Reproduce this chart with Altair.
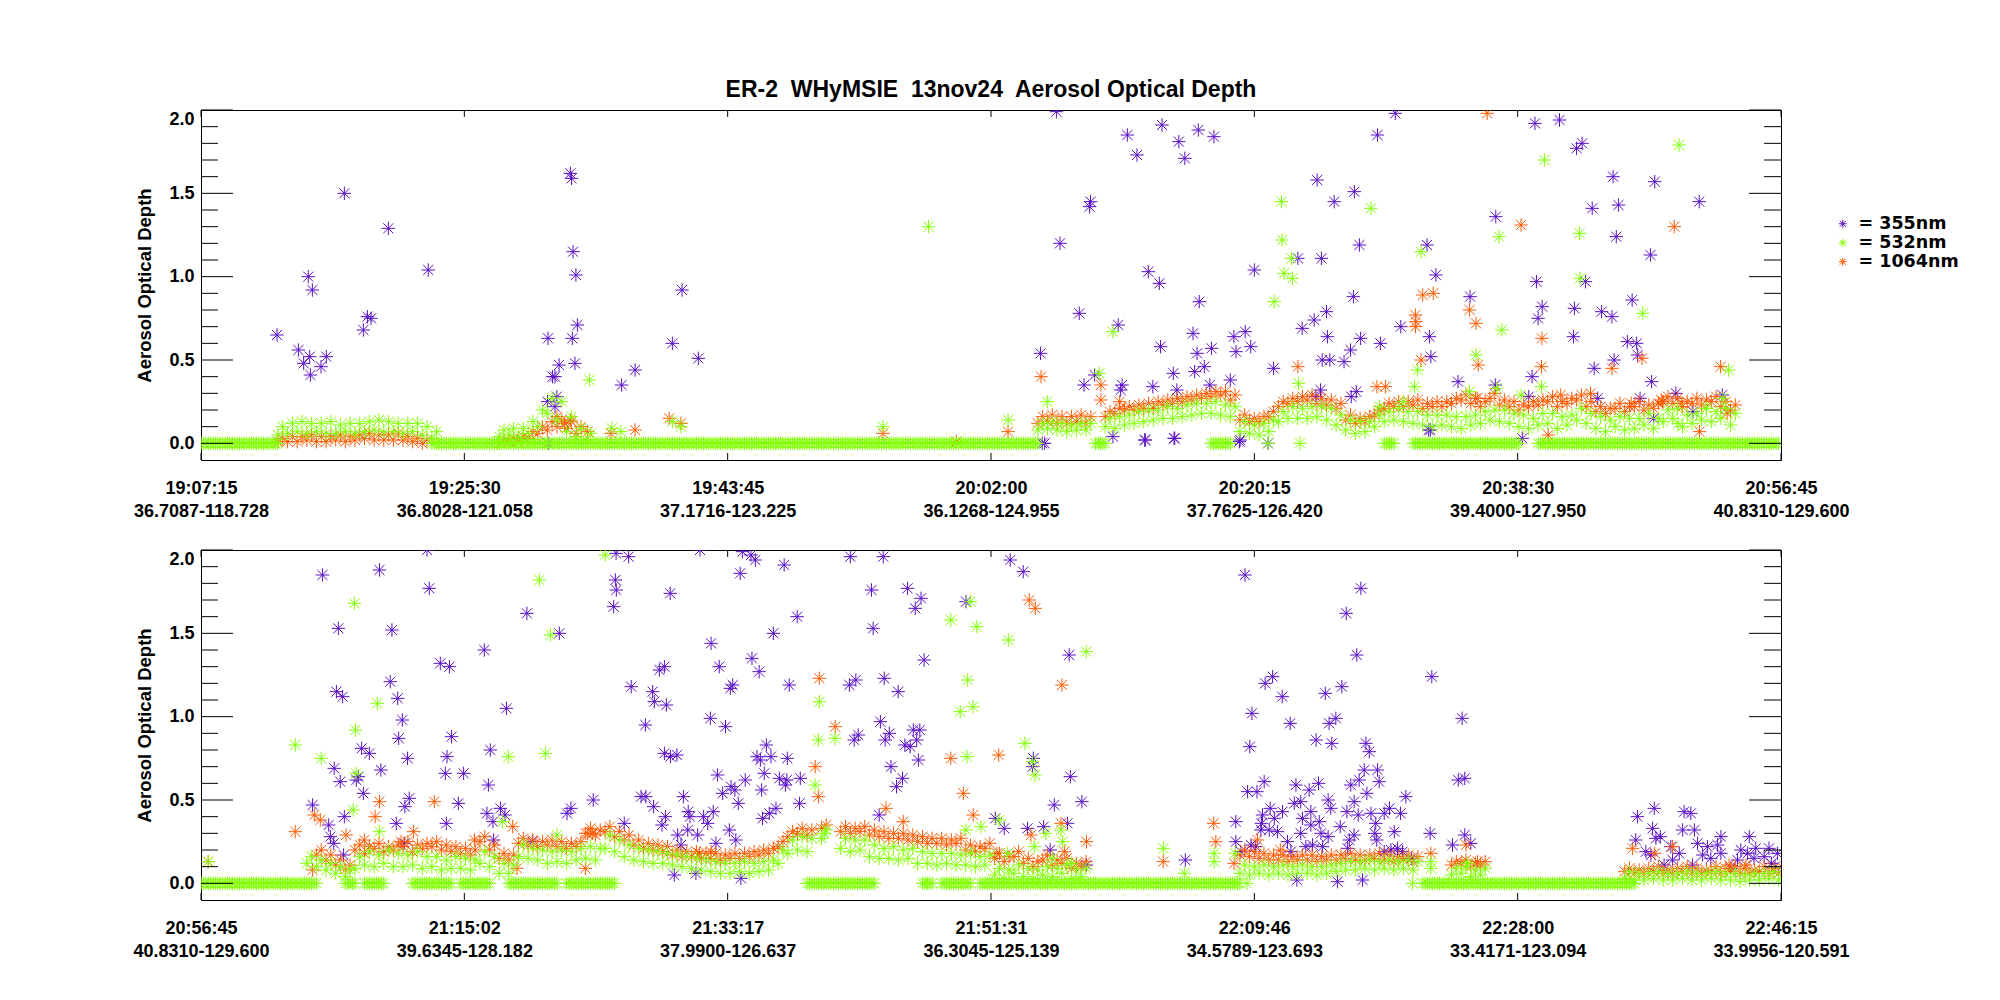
import json

import altair as alt
import pandas as pd

STEP = 40      # seconds between samples inside the dense bands (upper edge drawn half a step later)
ZSTEP = 10     # seconds between samples on the flat zero runs
SPAN = 6570    # seconds shown in each panel
TICKS = [0, 1095, 2190, 3285, 4380, 5475, 6570]

SERIES = ["355nm", "532nm", "1064nm"]
COLORS = ["#5a0fc8", "#80ff00", "#ff5a00"]
STAR = "M0,-1L0,1M-1,0L1,0M-0.75,-0.75L0.75,0.75M-0.75,0.75L0.75,-0.75"
FONT = "Liberation Sans"

top_times = ["19:07:15", "19:25:30", "19:43:45", "20:02:00", "20:20:15", "20:38:30", "20:56:45"]
top_places = ["36.7087-118.728", "36.8028-121.058", "37.1716-123.225", "36.1268-124.955",
              "37.7625-126.420", "39.4000-127.950", "40.8310-129.600"]
bot_times = ["20:56:45", "21:15:02", "21:33:17", "21:51:31", "22:09:46", "22:28:00", "22:46:15"]
bot_places = ["40.8310-129.600", "39.6345-128.182", "37.9900-126.637", "36.3045-125.139",
              "34.5789-123.693", "33.4171-123.094", "33.9956-120.591"]

# ---------------- top panel (seconds after 19:07:15) ----------------
# bands: (start, lower edge values, upper edge values)
top_532_zero = [(0, 320), (960, 3480), (3720, 3760), (4200, 4280), (4920, 4960), (5040, 5480), (5560, 6560)]
top_532_band = [
    (320, [0.05, 0.06, 0.07, 0.06, 0.07, 0.06, 0.06, 0.07, 0.06, 0.07, 0.08, 0.07, 0.07, 0.06, 0.07, 0.05, 0.03],
          [0.10, 0.12, 0.13, 0.12, 0.12, 0.13, 0.11, 0.12, 0.12, 0.13, 0.14, 0.13, 0.12, 0.12, 0.12, 0.10, 0.07]),
    (1240, [0.04, 0.05, 0.04, 0.06, 0.10, 0.18, 0.14, 0.07, 0.04, 0.02],
           [0.08, 0.09, 0.09, 0.13, 0.20, 0.27, 0.25, 0.16, 0.09, 0.06]),
    (3480, [0.08, 0.09, 0.08, 0.07, 0.08, 0.08],
           [0.12, 0.13, 0.12, 0.11, 0.12, 0.12]),
    (3760, [0.10, 0.09, 0.11, 0.12, 0.13, 0.14, 0.15, 0.15, 0.16, 0.17, 0.18, 0.18, 0.17, 0.16, 0.07, 0.06,
            0.05, 0.07, 0.13, 0.15, 0.15, 0.15, 0.16, 0.14, 0.11, 0.08, 0.06, 0.07, 0.10, 0.13, 0.14, 0.13,
            0.12, 0.11, 0.10, 0.11, 0.10, 0.09, 0.11, 0.12, 0.14, 0.13, 0.12, 0.10, 0.09, 0.11, 0.12, 0.09,
            0.11, 0.14, 0.12, 0.09, 0.07, 0.10, 0.08, 0.09, 0.11, 0.09, 0.13, 0.15, 0.10, 0.12, 0.14, 0.13,
            0.15, 0.11],
           [0.15, 0.16, 0.17, 0.19, 0.20, 0.20, 0.22, 0.21, 0.23, 0.24, 0.24, 0.25, 0.23, 0.22, 0.13, 0.11,
            0.12, 0.14, 0.19, 0.22, 0.21, 0.22, 0.22, 0.21, 0.17, 0.14, 0.13, 0.13, 0.17, 0.19, 0.21, 0.19,
            0.19, 0.17, 0.17, 0.17, 0.16, 0.16, 0.17, 0.19, 0.20, 0.20, 0.18, 0.17, 0.15, 0.18, 0.18, 0.16,
            0.17, 0.21, 0.18, 0.16, 0.14, 0.16, 0.15, 0.15, 0.18, 0.15, 0.20, 0.21, 0.17, 0.18, 0.21, 0.19,
            0.21, 0.18]),
]
top_532_pts = [(1615, 0.38), (1708, 0.09), (1746, 0.07), (1960, 0.13), (1996, 0.10), (2836, 0.10), (3025, 1.30),
               (3356, 0.14), (3519, 0.25), (3735, 0.42), (3792, 0.67), (4463, 0.85), (4493, 1.45), (4495, 1.22),
               (4504, 1.02), (4534, 1.11), (4538, 0.99), (4563, 0.36), (4865, 1.41), (5046, 0.34), (5059, 0.44),
               (5073, 1.15), (5302, 0.53), (5398, 1.24), (5409, 0.68), (5574, 0.34), (5586, 1.70), (5732, 1.26),
               (5734, 0.99), (5995, 0.78), (6142, 0.12), (6146, 1.79), (6259, 0.21), (6328, 0.27), (6352, 0.44),
               (4437, 0.0), (4570, 0.0), (5275, 0.31), (5387, 0.33), (5490, 0.29), (4900, 0.22), (5000, 0.25)]

top_1064_band = [
    (320, [0.01, 0.01, 0.01, 0.02, 0.01, 0.01, 0.02, 0.01, 0.02, 0.03, 0.02, 0.02, 0.02, 0.02, 0.01, 0.00],
          [0.03, 0.04, 0.04, 0.05, 0.04, 0.04, 0.05, 0.04, 0.05, 0.06, 0.05, 0.05, 0.06, 0.04, 0.03, 0.02]),
    (1240, [0.00, 0.01, 0.01, 0.03, 0.06, 0.08, 0.10, 0.09, 0.06],
           [0.02, 0.03, 0.04, 0.07, 0.10, 0.13, 0.14, 0.13, 0.10]),
    (3480, [0.12, 0.13, 0.12, 0.12, 0.13, 0.12],
           [0.16, 0.17, 0.16, 0.16, 0.17, 0.16]),
    (3760, [0.16, 0.18, 0.20, 0.20, 0.21, 0.21, 0.23, 0.24, 0.25, 0.26, 0.27, 0.28, 0.29, 0.26, 0.14, 0.13,
            0.13, 0.16, 0.22, 0.24, 0.25, 0.26, 0.24, 0.23, 0.21, 0.14, 0.12, 0.13, 0.17, 0.21, 0.22, 0.22,
            0.23, 0.21, 0.22, 0.22, 0.24, 0.26, 0.24, 0.22, 0.27, 0.23, 0.22, 0.20, 0.22, 0.23, 0.25, 0.22,
            0.24, 0.26, 0.22, 0.19, 0.18, 0.21, 0.19, 0.22, 0.20, 0.21, 0.25, 0.24, 0.22, 0.24, 0.23, 0.25,
            0.22, 0.20],
           [0.19, 0.21, 0.22, 0.23, 0.24, 0.25, 0.26, 0.27, 0.28, 0.29, 0.30, 0.31, 0.31, 0.29, 0.17, 0.15,
            0.16, 0.19, 0.25, 0.27, 0.28, 0.29, 0.27, 0.26, 0.24, 0.17, 0.15, 0.16, 0.20, 0.24, 0.25, 0.25,
            0.26, 0.24, 0.25, 0.25, 0.27, 0.29, 0.27, 0.25, 0.30, 0.26, 0.25, 0.23, 0.25, 0.26, 0.28, 0.25,
            0.27, 0.29, 0.25, 0.22, 0.21, 0.24, 0.22, 0.25, 0.23, 0.24, 0.28, 0.27, 0.25, 0.27, 0.26, 0.28,
            0.25, 0.23]),
]
top_1064_pts = [(1480, 0.16), (1511, 0.12), (1536, 0.14), (1608, 0.07), (1705, 0.06), (1805, 0.08), (1947, 0.15),
                (1996, 0.12), (2836, 0.06), (3141, 0.01), (3356, 0.07), (3493, 0.40), (3742, 0.26), (3742, 0.35),
                (3820, 0.25), (4561, 0.46), (5050, 0.77), (5052, 0.73), (5050, 0.70), (5073, 0.50), (5080, 0.89),
                (5124, 0.90), (5275, 0.80), (5302, 0.72), (5311, 0.47), (5348, 1.98), (5489, 1.31), (5574, 0.46),
                (5576, 0.63), (5602, 0.05), (5867, 0.45), (5992, 0.51), (6077, 0.25), (6126, 1.30), (6155, 0.24),
                (6231, 0.07), (6319, 0.46), (6346, 0.18), (4890, 0.34), (4925, 0.34), (5307, 0.27), (5654, 0.29),
                (5778, 0.30), (5947, 0.24), (6072, 0.26)]

top_355_pts = [(316, 0.65), (405, 0.56), (427, 0.48), (446, 1.00), (463, 0.92), (455, 0.41), (452, 0.52),
               (499, 0.46), (521, 0.52), (596, 1.50), (675, 0.68), (692, 0.76), (707, 0.75), (779, 1.29),
               (945, 1.04), (1536, 1.62), (1541, 1.59), (1547, 1.15), (1559, 1.01), (1565, 0.71), (1544, 0.63),
               (1443, 0.63), (1555, 0.48), (1489, 0.47), (1462, 0.40), (1472, 0.40), (1480, 0.28), (1472, 0.22),
               (1441, 0.25), (1443, 0.0), (1749, 0.35), (1805, 0.44), (1960, 0.60), (2000, 0.92), (2068, 0.51),
               (3491, 0.54), (3557, 1.99), (3572, 1.20), (3652, 0.78), (3699, 1.45), (3695, 1.42), (3852, 1.85),
               (3892, 1.73), (3996, 1.91), (4066, 1.81), (4091, 1.71), (4147, 1.88), (4212, 1.84), (3939, 1.03),
               (3985, 0.96), (3814, 0.71), (4151, 0.85), (3990, 0.58), (4125, 0.66), (4043, 0.42), (4058, 0.32),
               (3958, 0.34), (3672, 0.35), (3830, 0.35), (3824, 0.32), (3716, 0.41), (3924, 0.02), (4049, 0.03),
               (3508, 0.0), (4142, 0.54), (4202, 0.57), (4132, 0.43), (4172, 0.46), (4195, 0.35), (4280, 0.38),
               (4295, 0.64), (4342, 0.67), (4304, 0.55), (4365, 0.58), (4380, 1.04), (4318, 0.01), (4460, 0.45),
               (4561, 1.11), (4659, 1.11), (4641, 1.58), (4712, 1.45), (4796, 1.51), (4892, 1.85), (4966, 1.98),
               (4817, 1.19), (5098, 1.19), (5135, 1.01), (4792, 0.88), (4579, 0.69), (4629, 0.74), (4680, 0.79),
               (4684, 0.64), (4822, 0.63), (4904, 0.60), (4989, 0.70), (5108, 0.64), (4780, 0.56), (4662, 0.50),
               (4694, 0.50), (4753, 0.49), (5114, 0.52), (4636, 0.28), (4655, 0.32), (4783, 0.28), (4804, 0.31),
               (5227, 0.37), (5277, 0.88), (5382, 0.35), (5384, 1.36), (5547, 1.92), (5649, 1.94), (5720, 1.77),
               (5743, 1.80), (5872, 1.60), (6045, 1.57), (5785, 1.41), (5894, 1.43), (5885, 1.24), (6027, 1.13),
               (5553, 0.97), (5757, 0.97), (5577, 0.82), (5560, 0.75), (5711, 0.81), (5824, 0.79), (5867, 0.76),
               (5951, 0.86), (5707, 0.64), (5931, 0.61), (5970, 0.60), (5974, 0.53), (5876, 0.50), (5793, 0.45),
               (5535, 0.40), (6032, 0.37), (5521, 0.28), (5984, 0.27), (5105, 0.08), (5494, 0.03), (3498, 0.0),
               (3792, 0.04), (3927, 0.02), (4046, 0.03), (4321, 0.02), (4437, 0.0), (6230, 1.45), (6133, 0.30),
               (6204, 0.19), (6326, 0.29), (6040, 0.15), (5808, 0.27), (5112, 0.08)]

# ---------------- bottom panel (seconds after 20:56:45) ----------------
bot_532_zero = [(0, 480), (600, 640), (680, 760), (880, 1040), (1080, 1200), (1280, 1480), (1520, 1720),
                (2520, 2800), (3000, 3040), (3080, 3200), (3240, 4320), (5080, 5960)]
bot_532_band = [
    (440, [0.12, 0.10, 0.08, 0.06, 0.04],
          [0.16, 0.14, 0.12, 0.10, 0.08]),
    (640, [0.09, 0.11, 0.10, 0.12, 0.10, 0.10, 0.11, 0.09, 0.10, 0.08, 0.09, 0.09, 0.08, 0.12, 0.10, 0.06,
           0.06, 0.16, 0.15, 0.14],
          [0.16, 0.19, 0.17, 0.20, 0.18, 0.17, 0.19, 0.16, 0.16, 0.14, 0.16, 0.15, 0.14, 0.19, 0.16, 0.12,
           0.11, 0.23, 0.21, 0.20]),
    (1440, [0.12, 0.13, 0.12, 0.14, 0.15, 0.14, 0.21, 0.19, 0.16, 0.14, 0.13, 0.12, 0.12, 0.11, 0.10, 0.09,
            0.08, 0.07, 0.06, 0.06, 0.07, 0.06, 0.07, 0.08, 0.12, 0.18, 0.20, 0.19],
           [0.19, 0.20, 0.19, 0.21, 0.22, 0.21, 0.29, 0.26, 0.23, 0.21, 0.20, 0.19, 0.18, 0.17, 0.16, 0.15,
            0.14, 0.13, 0.12, 0.12, 0.13, 0.12, 0.13, 0.14, 0.20, 0.26, 0.28, 0.27]),
    (2580, [0.27], [0.32]),
    (2660, [0.21, 0.19, 0.20, 0.16, 0.15, 0.15, 0.14, 0.15, 0.12, 0.12, 0.11, 0.12, 0.11, 0.11, 0.10, 0.11],
           [0.27, 0.26, 0.26, 0.23, 0.21, 0.22, 0.20, 0.21, 0.19, 0.18, 0.18, 0.18, 0.17, 0.18, 0.16, 0.17]),
    (3300, [0.05, 0.03, 0.06, 0.04, 0.03, 0.05, 0.04, 0.06, 0.03, 0.04],
           [0.09, 0.08, 0.11, 0.09, 0.08, 0.10, 0.09, 0.11, 0.08, 0.09]),
    (4320, [0.06, 0.05, 0.06, 0.05, 0.06, 0.05, 0.06, 0.06, 0.05, 0.06, 0.07, 0.08, 0.08, 0.09, 0.08, 0.09,
            0.08, 0.09, 0.08],
           [0.11, 0.10, 0.11, 0.10, 0.11, 0.10, 0.11, 0.10, 0.10, 0.11, 0.12, 0.13, 0.13, 0.14, 0.13, 0.14,
            0.13, 0.14, 0.13]),
    (5200, [0.05, 0.06, 0.04, 0.05], [0.09, 0.10, 0.08, 0.09]),
    (5920, [0.03, 0.02, 0.02, 0.03, 0.02, 0.02, 0.03, 0.02, 0.02, 0.03, 0.02, 0.02, 0.01, 0.02, 0.02, 0.03, 0.02],
           [0.07, 0.06, 0.06, 0.07, 0.06, 0.06, 0.07, 0.06, 0.06, 0.07, 0.06, 0.06, 0.05, 0.06, 0.06, 0.07, 0.06]),
]
bot_532_pts = [(1681, 1.97), (1407, 1.82), (638, 1.68), (1453, 1.49), (733, 1.08), (642, 0.92), (392, 0.83),
               (500, 0.75), (1278, 0.76), (1432, 0.78), (645, 0.66), (633, 0.44), (30, 0.13), (1254, 0.37),
               (1480, 0.29), (742, 0.31), (3118, 1.58), (3199, 1.69), (3226, 1.54), (3357, 1.46), (3681, 1.39),
               (3188, 1.22), (3157, 1.03), (3210, 1.06), (2571, 1.09), (2567, 0.86), (2636, 0.87), (2553, 0.59),
               (3185, 0.76), (3426, 0.84), (3458, 0.73), (3468, 0.65), (4002, 0.21), (4089, 0.06), (4213, 0.18),
               (4213, 0.13), (2592, 0.30), (3243, 0.34), (3181, 0.32), (3319, 0.38), (3513, 0.30), (3576, 0.32),
               (3583, 0.25), (5114, 0.13), (5114, 0.09), (5266, 0.12), (5038, 0.0), (4349, 0.0), (4300, 0.18),
               (3354, 0.18), (3465, 0.22), (3540, 0.15), (3620, 0.12)]

bot_1064_band = [
    (480, [0.17, 0.14, 0.11, 0.08], [0.20, 0.17, 0.14, 0.11]),
    (640, [0.20, 0.18, 0.21, 0.19, 0.20, 0.22, 0.19, 0.21, 0.22, 0.20, 0.19, 0.18, 0.17, 0.25, 0.20, 0.15,
           0.14, 0.24, 0.23, 0.22],
          [0.23, 0.22, 0.24, 0.22, 0.23, 0.25, 0.23, 0.24, 0.25, 0.23, 0.22, 0.21, 0.20, 0.28, 0.23, 0.18,
           0.17, 0.27, 0.26, 0.25]),
    (1440, [0.23, 0.22, 0.21, 0.22, 0.30, 0.29, 0.31, 0.28, 0.26, 0.23, 0.21, 0.20, 0.19, 0.17, 0.16, 0.16,
            0.15, 0.15, 0.14, 0.15, 0.15, 0.16, 0.17, 0.18, 0.22, 0.28, 0.30, 0.29],
           [0.26, 0.25, 0.24, 0.25, 0.33, 0.32, 0.34, 0.31, 0.29, 0.26, 0.24, 0.23, 0.22, 0.20, 0.19, 0.19,
            0.18, 0.18, 0.17, 0.18, 0.18, 0.19, 0.20, 0.21, 0.25, 0.31, 0.33, 0.32]),
    (2580, [0.33], [0.35]),
    (2660, [0.31, 0.30, 0.31, 0.29, 0.28, 0.27, 0.27, 0.26, 0.25, 0.24, 0.24, 0.23, 0.24, 0.20, 0.19, 0.21],
           [0.34, 0.33, 0.34, 0.32, 0.31, 0.30, 0.30, 0.29, 0.28, 0.27, 0.27, 0.26, 0.27, 0.23, 0.22, 0.24]),
    (3300, [0.15, 0.13, 0.16, 0.12, 0.10, 0.14, 0.11, 0.12, 0.09, 0.10],
           [0.18, 0.16, 0.19, 0.15, 0.13, 0.17, 0.14, 0.15, 0.12, 0.13]),
    (4320, [0.17, 0.16, 0.15, 0.14, 0.14, 0.13, 0.14, 0.14, 0.13, 0.14, 0.14, 0.15, 0.14, 0.14, 0.15, 0.14,
            0.13, 0.14, 0.13],
           [0.20, 0.19, 0.18, 0.17, 0.17, 0.16, 0.17, 0.17, 0.16, 0.17, 0.17, 0.18, 0.17, 0.17, 0.18, 0.17,
            0.16, 0.17, 0.16]),
    (5200, [0.11, 0.12, 0.10, 0.11], [0.13, 0.14, 0.12, 0.13]),
    (5920, [0.07, 0.06, 0.06, 0.07, 0.06, 0.06, 0.07, 0.06, 0.06, 0.07, 0.06, 0.07, 0.06, 0.06, 0.07, 0.06, 0.06],
           [0.09, 0.08, 0.09, 0.10, 0.08, 0.09, 0.10, 0.09, 0.08, 0.10, 0.09, 0.10, 0.09, 0.08, 0.10, 0.09, 0.09]),
]
bot_1064_pts = [(30, 0.13), (392, 0.31), (471, 0.41), (496, 0.38), (742, 0.49), (970, 0.49), (724, 0.40),
                (603, 0.29), (464, 0.08), (884, 0.31), (1296, 0.34), (1608, 0.30), (1629, 0.30), (1314, 0.09),
                (1598, 0.09), (679, 0.26), (832, 0.25), (1137, 0.26), (2121, 0.19), (2072, 0.18), (2571, 1.23),
                (3444, 1.70), (3469, 1.65), (3580, 1.19), (2637, 0.94), (2554, 0.70), (2567, 0.52), (3118, 0.75),
                (3317, 0.77), (3170, 0.54), (3211, 0.41), (2848, 0.45), (2920, 0.37), (4211, 0.36), (4220, 0.25),
                (4001, 0.13), (4296, 0.12), (3682, 0.25), (3576, 0.36), (3451, 0.29), (3310, 0.18), (3590, 0.19),
                (4393, 0.26), (4488, 0.20), (5114, 0.18), (5260, 0.23), (5308, 0.13), (5953, 0.21), (6045, 0.18),
                (6119, 0.22), (6354, 0.11), (6424, 0.11)]

bot_355_pts = [(940, 2.0), (505, 1.85), (742, 1.88), (949, 1.77), (1355, 1.62), (1490, 1.50), (1178, 1.40),
               (571, 1.53), (794, 1.52), (1726, 1.98), (1778, 1.96), (1723, 1.82), (1727, 1.76), (1716, 1.66),
               (1951, 1.74), (2075, 2.0), (2121, 1.44), (2155, 1.30), (1906, 1.28), (1927, 1.30), (995, 1.32),
               (1033, 1.30), (787, 1.21), (563, 1.15), (589, 1.12), (818, 1.11), (837, 0.98), (822, 0.87),
               (1270, 1.05), (1042, 0.88), (1203, 0.80), (1789, 1.18), (1878, 1.15), (1885, 1.09), (1935, 1.07),
               (1848, 0.95), (2118, 0.99), (1927, 0.78), (1952, 0.76), (1979, 0.77), (2148, 0.65), (668, 0.81),
               (700, 0.78), (859, 0.75), (554, 0.69), (748, 0.68), (1023, 0.76), (579, 0.61), (646, 0.62),
               (654, 0.64), (675, 0.54), (1016, 0.66), (1092, 0.66), (1195, 0.59), (464, 0.47), (866, 0.51),
               (848, 0.46), (1070, 0.48), (1631, 0.50), (1830, 0.52), (1850, 0.52), (2006, 0.52), (1882, 0.46),
               (1538, 0.45), (1522, 0.42), (1189, 0.42), (1245, 0.45), (1264, 0.41), (1214, 0.37), (1931, 0.40),
               (2026, 0.43), (2033, 0.40), (2090, 0.40), (2130, 0.43), (2107, 0.36), (1917, 0.35), (596, 0.40),
               (531, 0.35), (812, 0.36), (1020, 0.36), (1760, 0.36), (538, 0.28), (552, 0.24), (1217, 0.26),
               (1982, 0.29), (2024, 0.32), (2065, 0.29), (1996, 0.23), (2141, 0.24), (593, 0.17), (1379, 0.25),
               (1968, 0.05), (2058, 0.06), (845, 0.24),
               (2252, 1.99), (2287, 1.97), (2305, 1.94), (2242, 1.86), (2425, 1.91), (2700, 1.96), (2837, 1.96),
               (3365, 1.94), (3419, 1.87), (2788, 1.76), (2938, 1.77), (2994, 1.71), (2970, 1.65), (3181, 1.69),
               (2479, 1.60), (2380, 1.50), (2795, 1.53), (3007, 1.34), (3610, 1.37), (2291, 1.35), (2321, 1.27),
               (2211, 1.19), (2201, 1.17), (2446, 1.19), (2696, 1.19), (2723, 1.22), (2841, 1.23), (2899, 1.15),
               (2181, 0.94), (2825, 0.97), (2862, 0.90), (2733, 0.89), (2716, 0.86), (2845, 0.86), (2962, 0.92),
               (2989, 0.92), (2976, 0.86), (2927, 0.83), (2949, 0.82), (2351, 0.83), (2312, 0.76), (2326, 0.74),
               (2370, 0.76), (2438, 0.75), (2342, 0.66), (2869, 0.70), (2983, 0.74), (2917, 0.63), (2892, 0.58),
               (2263, 0.62), (2405, 0.63), (2436, 0.62), (2492, 0.63), (2430, 0.59), (2204, 0.58), (2220, 0.56),
               (2169, 0.54), (2331, 0.56), (2234, 0.48), (2489, 0.48), (2391, 0.45), (2363, 0.42), (2335, 0.39),
               (2820, 0.41), (3461, 0.75), (3458, 0.70), (3615, 0.64), (3548, 0.47), (3663, 0.49), (3303, 0.39),
               (3340, 0.33), (3437, 0.33), (3504, 0.34), (3603, 0.36), (3531, 0.20), (3682, 0.11), (4093, 0.14),
               (4303, 0.37), (4303, 0.25), (2197, 0.32), (2224, 0.26), (2245, 0.03),
               (4341, 1.85), (4823, 1.77), (4762, 1.62), (4806, 1.37), (5118, 1.24), (4425, 1.20), (4456, 1.24),
               (4496, 1.12), (4675, 1.14), (4744, 1.18), (4370, 1.02), (4529, 0.96), (4691, 0.96), (4719, 0.99),
               (5244, 0.99), (4361, 0.82), (4637, 0.86), (4702, 0.84), (4844, 0.84), (4858, 0.79), (5228, 0.62),
               (5255, 0.63), (4837, 0.68), (4892, 0.68), (4899, 0.61), (4816, 0.62), (4352, 0.55), (4391, 0.55),
               (4421, 0.61), (4553, 0.59), (4608, 0.56), (4647, 0.60), (4687, 0.50), (4795, 0.49), (4848, 0.54),
               (4781, 0.59), (5010, 0.52), (4446, 0.45), (4497, 0.43), (4546, 0.48), (4573, 0.49), (4414, 0.41),
               (4615, 0.43), (4698, 0.45), (4765, 0.43), (4812, 0.41), (4865, 0.42), (4920, 0.42), (4942, 0.45),
               (4988, 0.42), (4463, 0.39), (4410, 0.36), (4580, 0.39), (4650, 0.37), (4615, 0.35), (4407, 0.32),
               (4442, 0.32), (4476, 0.31), (4737, 0.34), (4795, 0.29), (4885, 0.36), (4881, 0.30), (4889, 0.26),
               (4962, 0.31), (5111, 0.30), (4573, 0.30), (4594, 0.22), (4657, 0.30), (4687, 0.28), (4366, 0.23),
               (4386, 0.22), (4324, 0.19), (4518, 0.25), (4532, 0.19), (4622, 0.23), (4664, 0.22), (4775, 0.26),
               (4768, 0.21), (4920, 0.19), (4948, 0.20), (4975, 0.21), (4996, 0.19), (5034, 0.15), (5204, 0.23),
               (5255, 0.29), (5280, 0.24), (4557, 0.02), (4726, 0.01), (4830, 0.02),
               (5973, 0.40), (6043, 0.45), (6167, 0.43), (6195, 0.42), (6036, 0.33), (6068, 0.28), (6050, 0.27),
               (6161, 0.32), (6210, 0.32), (6320, 0.28), (6438, 0.28), (5966, 0.26), (6008, 0.19), (6029, 0.17),
               (6112, 0.22), (6147, 0.18), (6119, 0.14), (6223, 0.24), (6264, 0.22), (6306, 0.23), (6244, 0.17),
               (6278, 0.15), (6320, 0.18), (6403, 0.20), (6431, 0.18), (6465, 0.21), (6389, 0.14), (6458, 0.15),
               (6084, 0.11), (6202, 0.11), (6361, 0.09), (6500, 0.16), (6530, 0.12), (6555, 0.18), (6520, 0.21),
               (6545, 0.10)]

Y_MAJOR = [0.0, 0.5, 1.0, 1.5, 2.0]
Y_MINOR = [0.1, 0.2, 0.3, 0.4, 0.6, 0.7, 0.8, 0.9, 1.1, 1.2, 1.3, 1.4, 1.6, 1.7, 1.8, 1.9]

W, H = 1580, 350


def rows(series, zeros=(), bands=(), points=()):
    out = []
    for a, b in zeros:
        for t in range(a, b + 1, ZSTEP):
            out.append({"band": series, "t": t, "aod": 0.0})
    for start, lo, hi in bands:
        for i, (v1, v2) in enumerate(zip(lo, hi)):
            out.append({"band": series, "t": start + i * STEP, "aod": v1})
            out.append({"band": series, "t": start + i * STEP + STEP // 2, "aod": v2})
    for t, v in points:
        out.append({"band": series, "t": t, "aod": v})
    return out


# drawing order: 355 first, 1064 next, 532 on top
top_df = pd.DataFrame(rows("355nm", points=top_355_pts)
                      + rows("1064nm", bands=top_1064_band, points=top_1064_pts)
                      + rows("532nm", zeros=top_532_zero, bands=top_532_band, points=top_532_pts))
bot_df = pd.DataFrame(rows("355nm", points=bot_355_pts)
                      + rows("1064nm", bands=bot_1064_band, points=bot_1064_pts)
                      + rows("532nm", zeros=bot_532_zero, bands=bot_532_band, points=bot_532_pts))

xscale = alt.Scale(domain=[0, SPAN], nice=False, zero=False)
yscale = alt.Scale(domain=[-0.1, 2.0], nice=False, zero=False)

legend = alt.Legend(
    title=None, orient="none", legendX=1633, legendY=105, padding=0,
    labelExpr="'= ' + datum.label", labelFont="DejaVu Sans", labelFontSize=17.5,
    labelFontWeight="bold", labelColor="black", labelOffset=7,
    symbolType=STAR, symbolSize=64, symbolStrokeWidth=1, rowPadding=0,
)

y_axis = alt.Axis(
    values=Y_MAJOR, format=".1f", ticks=False, domain=False, grid=False,
    labelPadding=7, labelFont=FONT, labelFontSize=18, labelFontWeight="bold",
    labelColor="black", labelFlush=True,
    title="Aerosol Optical Depth", titleFont=FONT, titleFontSize=18.5,
    titleFontWeight="bold", titleColor="black", titlePadding=14,
)


def panel(df, times, places, title=None):
    labels = json.dumps([[a, b] for a, b in zip(times, places)])
    x_axis = alt.Axis(
        values=TICKS, labelExpr=f"{labels}[indexof({json.dumps(TICKS)}, datum.value)]",
        ticks=False, domain=False, grid=False, title=None,
        labelPadding=19, labelLineHeight=23, labelFont=FONT, labelFontSize=18,
        labelFontWeight="bold", labelColor="black", labelOverlap=False, labelFlush=False,
    )
    X = alt.X("t:Q", scale=xscale, axis=x_axis)
    Y = alt.Y("aod:Q", scale=yscale, axis=y_axis)

    points = alt.Chart(df).mark_point(
        shape=STAR, filled=False, size=180, strokeWidth=1, opacity=1, clip=True
    ).encode(
        x=X, y=Y,
        color=alt.Color("band:N", scale=alt.Scale(domain=SERIES, range=COLORS), legend=legend),
    )

    major = pd.DataFrame({"aod": Y_MAJOR})
    minor = pd.DataFrame({"aod": Y_MINOR})
    xt = pd.DataFrame({"t": TICKS})

    # inward ticks on all four sides of the frame
    def yrule(data, x0, x1):
        return alt.Chart(data).mark_rule(color="black", strokeWidth=1).encode(
            y=Y, x=alt.value(x0), x2=alt.value(x1))

    def xrule(y0, y1):
        return alt.Chart(xt).mark_rule(color="black", strokeWidth=1).encode(
            x=X, y=alt.value(y0), y2=alt.value(y1))

    layers = [points,
              yrule(major, 0, 32), yrule(minor, 0, 17),
              yrule(major, W - 32, W), yrule(minor, W - 17, W),
              xrule(0, 7), xrule(H - 7, H)]
    chart = alt.layer(*layers).properties(width=W, height=H)
    if title:
        chart = chart.properties(title=title)
    return chart


title = alt.TitleParams(
    "ER-2\u00a0 WHyMSIE\u00a0 13nov24\u00a0 Aerosol Optical Depth",
    font=FONT, fontSize=23, fontWeight="bold", color="black",
    anchor="middle", frame="group", baseline="alphabetic", offset=-10,
)

top = panel(top_df, top_times, top_places, title)
bottom = panel(bot_df, bot_times, bot_places)

chart = alt.vconcat(top, bottom, spacing=90, bounds="flush").properties(
    padding={"left": 124, "top": 70, "right": 10, "bottom": 10},
    background="white",
).configure_view(stroke="black", strokeWidth=1)

chart.save("out.html", embed_options={"renderer": "svg", "actions": False})
